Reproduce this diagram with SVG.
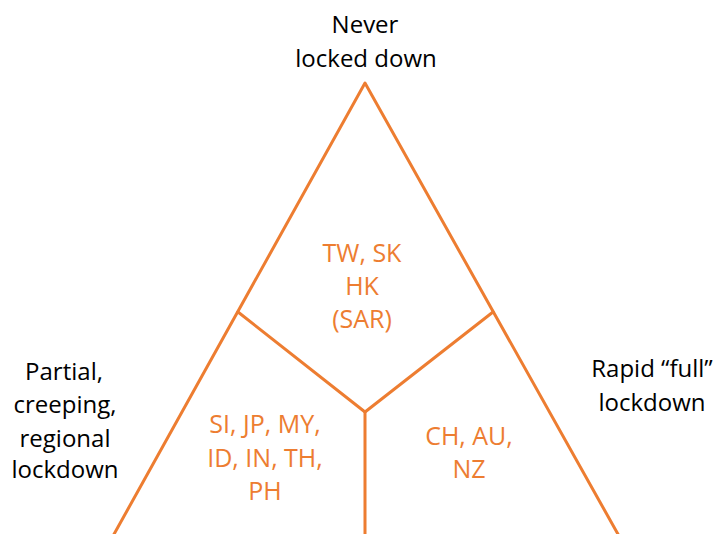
<svg xmlns="http://www.w3.org/2000/svg" width="717" height="534" viewBox="0 0 717 534">
<style>
.ln{stroke:#ED7D31;stroke-width:3;fill:none;stroke-linecap:round;stroke-linejoin:round}
.lbl{font-family:"Open Sans","Noto Sans",sans-serif;font-size:24px;fill:#000;text-anchor:middle}
.cty{font-family:"Open Sans","Noto Sans",sans-serif;font-size:25px;font-weight:500;fill:#ED7D31;text-anchor:middle}
</style>
<rect width="717" height="534" fill="#fff"/>
<g id="connectors">
<path class="ln" d="M113,536 L365,83 L619,536"/>
<path class="ln" d="M238,312 L365,412 L493,312"/>
<path class="ln" d="M365,412 L365,536"/>
</g>
<g id="never">
<text class="lbl" x="365" y="33">Never</text>
<text class="lbl" x="366" y="67">locked down</text>
</g>
<g id="partial">
<text class="lbl" x="64" y="380">Partial,</text>
<text class="lbl" x="65" y="413">creeping,</text>
<text class="lbl" x="65" y="447">regional</text>
<text class="lbl" x="65" y="478">lockdown</text>
</g>
<g id="rapid">
<text class="lbl" x="652" y="377">Rapid “full”</text>
<text class="lbl" x="652" y="411">lockdown</text>
</g>
<g id="top-region">
<text class="cty" x="362" y="262">TW, SK</text>
<text class="cty" x="362" y="295">HK</text>
<text class="cty" x="362" y="328">(SAR)</text>
</g>
<g id="left-region">
<text class="cty" x="265" y="433">SI, JP, MY,</text>
<text class="cty" x="265" y="467">ID, IN, TH,</text>
<text class="cty" x="265" y="500">PH</text>
</g>
<g id="right-region">
<text class="cty" x="469" y="445">CH, AU,</text>
<text class="cty" x="469" y="478">NZ</text>
</g>
</svg>
